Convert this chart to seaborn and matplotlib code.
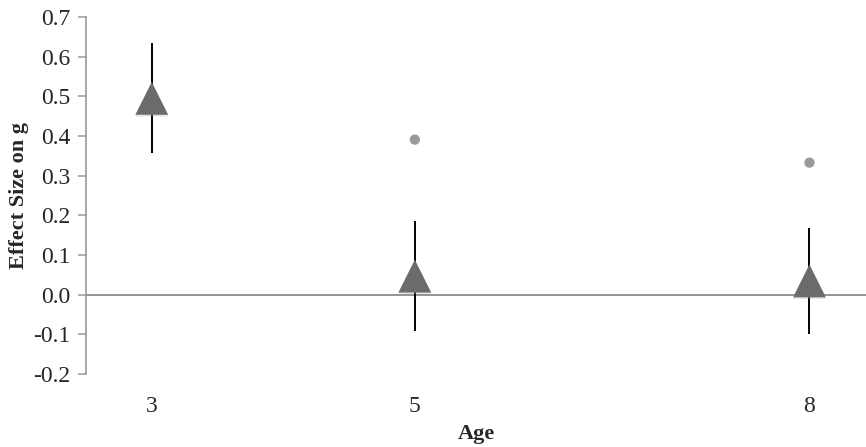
import numpy as np
import pandas as pd
import matplotlib.pyplot as plt
import matplotlib.patheffects as pe
import seaborn as sns

# values
ages = [3, 5, 8]
effect = [0.495, 0.047, 0.035]
ci_low = [0.356, -0.091, -0.098]
ci_high = [0.635, 0.185, 0.169]

dot_ages = [5, 8]
dot_values = [0.391, 0.333]

yticks = [-0.2, -0.1, 0.0, 0.1, 0.2, 0.3, 0.4, 0.5, 0.6, 0.7]

sns.set_style("white")
plt.rcParams['font.family'] = ['Liberation Serif', 'DejaVu Serif']

main = pd.DataFrame({'age': ages, 'effect': effect, 'lo': ci_low, 'hi': ci_high})
dots = pd.DataFrame({'age': dot_ages, 'effect': dot_values})

fig = plt.figure(figsize=(8.66, 4.47), dpi=100)
ax = fig.add_axes([0.0993, 0.163, 0.9007, 0.799])

# zero line
ax.axhline(0, color='#8c8c8c', lw=1.3, zorder=1)

# confidence intervals
ax.vlines(main['age'], main['lo'], main['hi'], color='black', lw=1.4, zorder=2)

# triangles with a soft shadow
sns.scatterplot(data=main, x='age', y='effect', marker='^', s=560,
                color='#6b6b6b', edgecolor='none', ax=ax, zorder=3,
                path_effects=[pe.SimplePatchShadow(offset=(0, -1.2), shadow_rgbFace='#aaaaaa', alpha=0.3),
                              pe.Normal()])

sns.scatterplot(data=dots, x='age', y='effect', marker='o', s=55,
                color='#9a9a9a', edgecolor='none', ax=ax, zorder=3)

ax.set_xlim(2.5, 8.43)
ax.set_ylim(-0.2, 0.7)
ax.set_xticks(ages)
ax.set_xticklabels([str(a) for a in ages])
ax.set_yticks(yticks)
ax.set_yticklabels([f'{v:.1f}' for v in yticks])

for s in ['top', 'right', 'bottom']:
    ax.spines[s].set_visible(False)
ax.spines['left'].set_color('#9a9a9a')
ax.spines['left'].set_linewidth(1.2)

ax.tick_params(axis='y', direction='out', length=6, width=1.1, color='#9a9a9a',
               labelsize=17, pad=5, left=True)
ax.tick_params(axis='x', length=0, labelsize=17, pad=16)

ax.set_xlabel('Age', fontsize=16, fontweight='bold', labelpad=5)
ax.set_ylabel('Effect Size on g', fontsize=16, fontweight='bold', labelpad=3)

fig.savefig('out.png', dpi=100)
